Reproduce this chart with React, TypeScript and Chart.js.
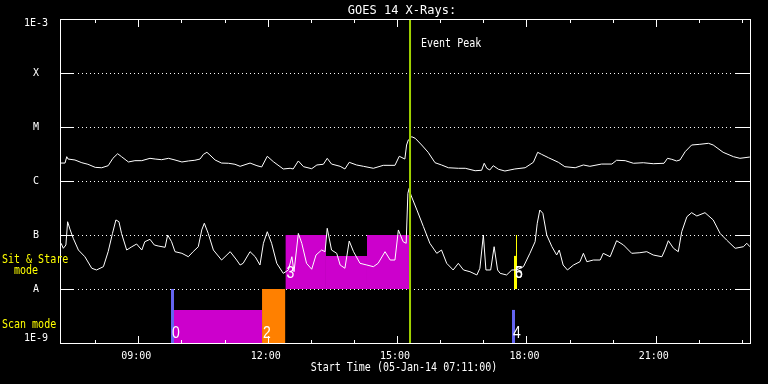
import React, { useEffect, useRef } from 'react';
import { Chart, registerables } from 'chart.js';

Chart.register(...registerables);

// ---- axis definitions ----
const START_HOUR = 7 + 11 / 60;
const END_HOUR = START_HOUR + 16;
const xTickHours = [8, 9, 10, 11, 12, 13, 14, 15, 16, 17, 18, 19, 20, 21, 22, 23];
const xMajorEvery = 3;
const yTickValues = [1e-9, 1e-8, 1e-7, 1e-6, 1e-5, 1e-4, 1e-3];
const yTickLabels = ['1E-9', 'A', 'B', 'C', 'M', 'X', '1E-3'];

const titleText = 'GOES 14 X-Rays:';
const xAxisTitle = 'Start Time (05-Jan-14 07:11:00)';
const peakLabel = 'Event Peak';
const peakTime = 15.3;

// ---- GOES long channel (1-8 A) ----
const longTimes = [7.19, 7.30, 7.34, 7.37, 7.53, 7.69, 7.83, 8.00, 8.15, 8.30, 8.41, 8.52, 8.61, 8.77, 8.92, 9.08, 9.27, 9.39, 9.54, 9.70, 9.85, 10.01, 10.16, 10.31, 10.43, 10.51, 10.59, 10.66, 10.78, 10.93, 11.09, 11.24, 11.36, 11.59, 11.75, 11.86, 11.99, 12.13, 12.36, 12.52, 12.59, 12.71, 12.83, 13.02, 13.14, 13.29, 13.38, 13.48, 13.68, 13.79, 13.89, 14.06, 14.22, 14.45, 14.68, 14.95, 15.05, 15.18, 15.22, 15.26, 15.34, 15.42, 15.57, 15.72, 15.88, 16.03, 16.19, 16.42, 16.58, 16.81, 16.96, 17.02, 17.08, 17.15, 17.23, 17.35, 17.50, 17.73, 17.97, 18.16, 18.26, 18.35, 18.51, 18.74, 18.89, 19.13, 19.32, 19.47, 19.74, 19.98, 20.09, 20.29, 20.48, 20.71, 20.94, 21.19, 21.27, 21.37, 21.48, 21.56, 21.68, 21.83, 22.02, 22.22, 22.33, 22.56, 22.80, 22.95, 23.18];
const longFlux = [2.15e-6, 2.15e-6, 2.82e-6, 2.55e-6, 2.45e-6, 2.18e-6, 2.04e-6, 1.79e-6, 1.76e-6, 1.92e-6, 2.63e-6, 3.20e-6, 2.82e-6, 2.25e-6, 2.38e-6, 2.38e-6, 2.63e-6, 2.55e-6, 2.48e-6, 2.63e-6, 2.45e-6, 2.25e-6, 2.35e-6, 2.42e-6, 2.55e-6, 3.12e-6, 3.40e-6, 3.03e-6, 2.45e-6, 2.15e-6, 2.13e-6, 2.04e-6, 1.87e-6, 2.15e-6, 1.92e-6, 1.82e-6, 2.87e-6, 2.28e-6, 1.67e-6, 1.72e-6, 1.67e-6, 2.35e-6, 1.84e-6, 1.69e-6, 1.98e-6, 2.04e-6, 2.63e-6, 2.06e-6, 1.87e-6, 1.67e-6, 2.22e-6, 1.98e-6, 1.87e-6, 1.72e-6, 1.95e-6, 1.95e-6, 2.87e-6, 2.55e-6, 4.64e-6, 5.74e-6, 6.61e-6, 6.18e-6, 4.64e-6, 3.40e-6, 2.18e-6, 1.98e-6, 1.76e-6, 1.72e-6, 1.72e-6, 1.55e-6, 1.58e-6, 2.13e-6, 1.72e-6, 1.60e-6, 1.92e-6, 1.65e-6, 1.53e-6, 1.67e-6, 1.76e-6, 2.22e-6, 3.40e-6, 3.12e-6, 2.70e-6, 2.22e-6, 1.84e-6, 1.76e-6, 1.98e-6, 1.87e-6, 2.06e-6, 2.06e-6, 2.42e-6, 2.38e-6, 2.13e-6, 2.18e-6, 2.09e-6, 2.13e-6, 2.63e-6, 2.52e-6, 2.35e-6, 2.45e-6, 3.49e-6, 4.64e-6, 4.78e-6, 4.99e-6, 4.64e-6, 3.40e-6, 2.82e-6, 2.63e-6, 2.78e-6];

// ---- GOES short channel (0.5-4 A) ----
const shortTimes = [7.21, 7.26, 7.32, 7.36, 7.42, 7.49, 7.61, 7.76, 7.92, 8.03, 8.19, 8.30, 8.40, 8.48, 8.55, 8.61, 8.73, 8.85, 8.96, 9.08, 9.15, 9.27, 9.37, 9.46, 9.62, 9.68, 9.77, 9.85, 10.01, 10.16, 10.27, 10.39, 10.47, 10.53, 10.62, 10.74, 10.93, 11.01, 11.13, 11.28, 11.36, 11.43, 11.59, 11.71, 11.82, 11.90, 11.99, 12.09, 12.21, 12.36, 12.48, 12.56, 12.61, 12.71, 12.79, 12.90, 13.02, 13.12, 13.25, 13.33, 13.38, 13.48, 13.60, 13.68, 13.79, 13.89, 13.99, 14.14, 14.30, 14.45, 14.56, 14.72, 14.84, 14.95, 15.03, 15.14, 15.21, 15.25, 15.28, 15.32, 15.46, 15.61, 15.76, 15.92, 16.03, 16.15, 16.30, 16.42, 16.54, 16.69, 16.85, 16.92, 17.00, 17.06, 17.17, 17.25, 17.33, 17.39, 17.54, 17.66, 17.77, 17.93, 18.08, 18.20, 18.25, 18.31, 18.38, 18.47, 18.59, 18.70, 18.76, 18.85, 18.95, 19.09, 19.24, 19.32, 19.40, 19.55, 19.71, 19.78, 19.94, 20.09, 20.25, 20.44, 20.63, 20.79, 20.94, 21.14, 21.21, 21.29, 21.41, 21.52, 21.60, 21.72, 21.83, 21.95, 22.14, 22.33, 22.49, 22.64, 22.84, 23.03, 23.11, 23.18];
const shortFlux = [7.02e-8, 5.67e-8, 6.53e-8, 1.76e-7, 1.24e-7, 8.69e-8, 5.27e-8, 3.96e-8, 2.42e-8, 2.25e-8, 2.59e-8, 4.91e-8, 1.07e-7, 1.90e-7, 1.76e-7, 1.07e-7, 5.27e-8, 6.07e-8, 6.81e-8, 5.27e-8, 7.51e-8, 8.32e-8, 6.53e-8, 6.26e-8, 5.92e-8, 1.00e-7, 7.51e-8, 4.91e-8, 4.58e-8, 3.96e-8, 4.91e-8, 6.07e-8, 1.24e-7, 1.65e-7, 1.07e-7, 5.27e-8, 3.44e-8, 3.96e-8, 4.91e-8, 3.44e-8, 2.78e-8, 2.99e-8, 4.91e-8, 3.96e-8, 2.78e-8, 7.02e-8, 1.15e-7, 7.02e-8, 2.99e-8, 1.95e-8, 2.25e-8, 3.96e-8, 2.09e-8, 1.07e-7, 7.02e-8, 2.99e-8, 2.32e-8, 4.26e-8, 5.27e-8, 4.91e-8, 1.33e-7, 5.27e-8, 4.58e-8, 2.78e-8, 2.42e-8, 7.74e-8, 4.91e-8, 2.99e-8, 2.78e-8, 2.59e-8, 2.99e-8, 4.91e-8, 3.44e-8, 3.44e-8, 1.24e-7, 7.51e-8, 7.02e-8, 5.92e-7, 7.3e-7, 5.5e-7, 2.90e-7, 1.43e-7, 7.02e-8, 4.58e-8, 5.27e-8, 2.99e-8, 2.25e-8, 2.99e-8, 2.25e-8, 2.09e-8, 1.82e-8, 2.42e-8, 1.00e-7, 2.25e-8, 2.25e-8, 6.07e-8, 2.25e-8, 1.95e-8, 1.82e-8, 2.25e-8, 2.25e-8, 2.59e-8, 4.58e-8, 7.51e-8, 1.65e-7, 2.90e-7, 2.52e-7, 1.00e-7, 6.07e-8, 4.26e-8, 5.27e-8, 2.78e-8, 2.25e-8, 2.78e-8, 3.20e-8, 4.58e-8, 3.20e-8, 3.44e-8, 3.44e-8, 4.58e-8, 3.96e-8, 7.84e-8, 6.53e-8, 4.58e-8, 4.70e-8, 4.91e-8, 4.26e-8, 3.96e-8, 5.27e-8, 7.84e-8, 5.67e-8, 4.91e-8, 1.15e-7, 2.18e-7, 2.59e-7, 2.25e-7, 2.59e-7, 1.90e-7, 1.07e-7, 8.08e-8, 5.67e-8, 6.07e-8, 7.02e-8, 6.07e-8];

// ---- observation bars (scan mode below A, sit & stare between A and B) ----
const BLUE = '#6464f0';
const MAGENTA = '#cc00cc';
const ORANGE = '#ff8000';
const YELLOW = '#ffff00';
const barStart = [9.757, 9.827, 11.868, 12.41, 13.351, 14.302, 17.664, 17.711];
const barEnd = [9.827, 11.868, 12.41, 13.351, 14.302, 15.276, 17.734, 17.781];
const barTop = [1e-8, 4.1e-9, 1e-8, 1e-7, 4.1e-8, 1e-7, 4.1e-9, 4.1e-8];
const barBase = [1e-9, 1e-9, 1e-9, 1e-8, 1e-8, 1e-8, 1e-9, 1e-8];
const barColor = [BLUE, MAGENTA, ORANGE, MAGENTA, MAGENTA, MAGENTA, BLUE, YELLOW];
const barLabels = [['0'], [], ['2'], ['3'], [], [], ['4'], ['5', '6']];
const stareMarkTime = 17.769;
const stareMarkRange = [1e-8, 1e-7];

const MONO = '"DejaVu Sans Mono", monospace';

function tallText(ctx: CanvasRenderingContext2D, text: string, x: number, baseline: number, sy: number) {
  ctx.save();
  ctx.translate(x, baseline);
  ctx.scale(1, sy);
  ctx.fillText(text, 0, 0);
  ctx.restore();
}

const decorPlugin = {
  id: 'goesDecor',
  beforeDatasetsDraw(chart: any) {
    const { ctx, chartArea, scales } = chart;
    const { left, right, top, bottom } = chartArea;
    const y = scales.y;
    ctx.save();
    ctx.fillStyle = '#ffffff';
    for (const v of yTickValues) {
      const py = Math.round(y.getPixelForValue(v));
      if (py <= top + 1 || py >= bottom - 1) continue;
      ctx.fillRect(left, py, 14, 1);
      ctx.fillRect(right - 15, py, 16, 1);
      for (let px = left + 18; px < right - 16; px += 4) ctx.fillRect(px, py, 1, 1);
    }
    ctx.restore();
  },
  afterDatasetsDraw(chart: any) {
    const { ctx, chartArea, scales } = chart;
    const { left, right, top, bottom } = chartArea;
    const x = scales.x;
    const y = scales.y;
    const L = Math.round(left), R = Math.round(right), T = Math.round(top), B = Math.round(bottom);
    ctx.save();
    ctx.fillStyle = '#ffffff';
    ctx.fillRect(L, T, R - L + 1, 1);
    ctx.fillRect(L, B, R - L + 1, 1);
    ctx.fillRect(L, T, 1, B - T + 1);
    ctx.fillRect(R, T, 1, B - T + 1);
    for (const h of xTickHours) {
      const px = Math.round(x.getPixelForValue(h));
      const len = h % xMajorEvery === 0 ? 7 : 3;
      ctx.fillRect(px, B - len, 1, len);
      ctx.fillRect(px, T + 1, 1, len);
    }
    // bar numbers
    ctx.font = '14px "Liberation Sans", sans-serif';
    ctx.textAlign = 'left';
    ctx.textBaseline = 'alphabetic';
    barLabels.forEach((labs, i) => {
      if (!labs.length) return;
      const px = x.getPixelForValue(barStart[i]) + 1;
      const base = y.getPixelForValue(barBase[i]);
      const off = barBase[i] > 1.5e-9 ? 11 : 5;
      labs.forEach((t) => tallText(ctx, t, px, base - off, 1.15));
    });
    ctx.restore();
  },
  afterDraw(chart: any) {
    const { ctx, chartArea, scales } = chart;
    const { left, right } = chartArea;
    const x = scales.x;
    ctx.save();
    ctx.textBaseline = 'alphabetic';
    ctx.fillStyle = '#ffffff';
    ctx.font = '12px ' + MONO;
    ctx.textAlign = 'center';
    tallText(ctx, titleText, (left + right) / 2 - 3, 14, 1.05);
    ctx.font = '10px ' + MONO;
    tallText(ctx, xAxisTitle, (left + right) / 2 - 1, 371, 1.15);
    ctx.textAlign = 'left';
    tallText(ctx, peakLabel, x.getPixelForValue(peakTime) + 11, 47, 1.2);
    ctx.fillStyle = YELLOW;
    tallText(ctx, 'Sit & Stare', 2, 263, 1.2);
    tallText(ctx, '  mode', 2, 274, 1.2);
    tallText(ctx, 'Scan mode', 2, 328, 1.2);
    ctx.restore();
  },
};

function buildDatasets() {
  const ds: any[] = [];
  barStart.forEach((s, i) => {
    ds.push({
      data: [
        { x: s, y: barTop[i] },
        { x: barEnd[i], y: barTop[i] },
      ],
      borderColor: 'rgba(0,0,0,0)',
      borderWidth: 0,
      backgroundColor: barColor[i],
      pointRadius: 0,
      fill: { value: barBase[i] },
      order: 4,
    });
  });
  ds.push({
    data: [
      { x: stareMarkTime, y: stareMarkRange[0] },
      { x: stareMarkTime, y: stareMarkRange[1] },
    ],
    borderColor: YELLOW,
    borderWidth: 1,
    pointRadius: 0,
    fill: false,
    order: 3,
  });
  ds.push({
    label: 'long',
    data: longTimes.map((t, i) => ({ x: t, y: longFlux[i] })),
    borderColor: '#ffffff',
    borderWidth: 1,
    pointRadius: 0,
    fill: false,
    tension: 0,
    order: 2,
  });
  ds.push({
    label: 'short',
    data: shortTimes.map((t, i) => ({ x: t, y: shortFlux[i] })),
    borderColor: '#ffffff',
    borderWidth: 1,
    pointRadius: 0,
    fill: false,
    tension: 0,
    order: 2,
  });
  ds.push({
    label: 'peak',
    data: [
      { x: peakTime, y: 1e-9 },
      { x: peakTime, y: 1e-3 },
    ],
    borderColor: '#a0d200',
    borderWidth: 2,
    pointRadius: 0,
    fill: false,
    order: 1,
  });
  return ds;
}

function pad2(n: number) {
  return (n < 10 ? '0' : '') + n;
}

export default function App() {
  const ref = useRef<HTMLCanvasElement>(null);
  useEffect(() => {
    document.body.style.margin = '0';
    document.body.style.background = '#000';
    const chart = new Chart(ref.current as HTMLCanvasElement, {
      type: 'line',
      data: { datasets: buildDatasets() },
      options: {
        animation: false,
        responsive: false,
        devicePixelRatio: 1,
        events: [],
        layout: { padding: { top: 19, right: 18, bottom: 0, left: 0 } },
        plugins: { legend: { display: false }, tooltip: { enabled: false }, title: { display: false } },
        scales: {
          x: {
            type: 'linear',
            min: START_HOUR,
            max: END_HOUR,
            grid: { display: false },
            border: { display: false },
            afterBuildTicks: (s: any) => {
              s.ticks = xTickHours.map((v) => ({ value: v }));
            },
            afterFit: (s: any) => {
              s.height = 41;
            },
            ticks: {
              autoSkip: false,
              maxRotation: 0,
              color: '#ffffff',
              padding: -1,
              labelOffset: -2,
              font: { family: MONO, size: 10 },
              callback: (v: any) => (Number(v) % xMajorEvery === 0 ? pad2(Number(v)) + ':00' : ''),
            },
          },
          y: {
            type: 'logarithmic',
            min: 1e-9,
            max: 1e-3,
            grid: { display: false },
            border: { display: false },
            afterBuildTicks: (s: any) => {
              s.ticks = yTickValues.map((v) => ({ value: v }));
            },
            afterFit: (s: any) => {
              s.width = 60;
            },
            ticks: {
              autoSkip: false,
              color: '#ffffff',
              padding: 4,
              crossAlign: 'center',
              font: { family: MONO, size: 10, lineHeight: 0.9 },
              callback: (v: any) => {
                const e = Math.round(Math.log10(Number(v)));
                const idx = yTickValues.findIndex((t) => Math.round(Math.log10(t)) === e);
                const lab = yTickLabels[idx];
                if (idx === yTickValues.length - 1) return ['', lab];
                if (idx === 0) return [lab, ''];
                return lab;
              },
            },
          },
        },
      } as any,
      plugins: [decorPlugin],
    });
    return () => chart.destroy();
  }, []);
  return (
    <div style={{ width: 768, height: 384, background: '#000' }}>
      <canvas ref={ref} width={768} height={384} style={{ display: 'block' }} />
    </div>
  );
}
